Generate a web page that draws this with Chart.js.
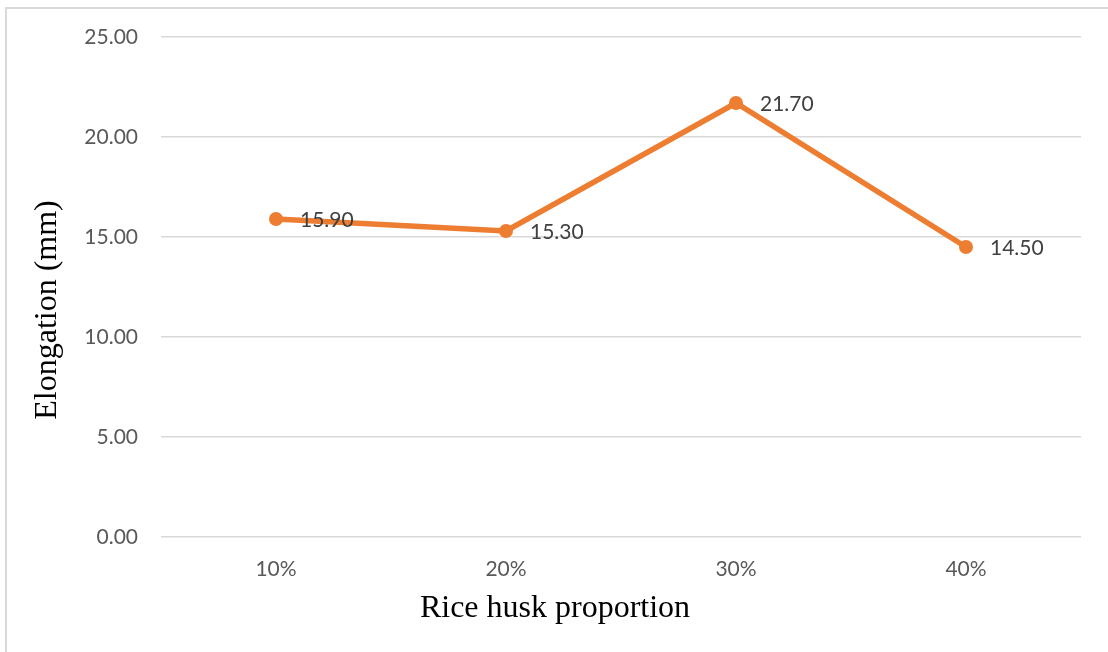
<!DOCTYPE html>
<html>
<head>
<meta charset="utf-8">
<script src="https://cdn.jsdelivr.net/npm/chart.js@4/dist/chart.umd.min.js"></script>
<style>
  html, body { margin: 0; padding: 0; background: #ffffff; }
  #wrap { width: 1108px; height: 652px; position: relative; }
</style>
</head>
<body>
<div id="wrap"><canvas id="chart" width="1108" height="652"></canvas></div>
<script>
// Elongation of samples by rice husk proportion
const categories = ['10%', '20%', '30%', '40%'];
const elongation = [15.90, 15.30, 21.70, 14.50];
const yTicks = [0, 5, 10, 15, 20, 25];
const xTitle = 'Rice husk proportion';
const yTitle = 'Elongation (mm)';

const tickFont = { family: 'Lato, "Open Sans", sans-serif', size: 21 };
const titleFont = { family: '"Liberation Serif", "Times New Roman", serif', size: 32 };

// Value labels placed to the right of each point
const valueLabels = {
  id: 'valueLabels',
  afterDatasetsDraw(chart) {
    const ctx = chart.ctx;
    const meta = chart.getDatasetMeta(0);
    ctx.save();
    ctx.font = `${tickFont.size}px ${tickFont.family}`;
    ctx.fillStyle = '#404040';
    ctx.textAlign = 'left';
    ctx.textBaseline = 'middle';
    meta.data.forEach((pt, i) => {
      ctx.fillText(elongation[i].toFixed(2), pt.x + 24, pt.y + 1);
    });
    ctx.restore();
  }
};

// Axis titles centred on the whole figure rather than on the plot area
const axisTitles = {
  id: 'axisTitles',
  afterDraw(chart) {
    const ctx = chart.ctx;
    ctx.save();
    ctx.font = `${titleFont.size}px ${titleFont.family}`;
    ctx.fillStyle = '#000000';
    ctx.textAlign = 'center';
    ctx.textBaseline = 'middle';
    ctx.fillText(xTitle, 555, 609);
    ctx.translate(48, 310);
    ctx.rotate(-Math.PI / 2);
    ctx.fillText(yTitle, 0, 0);
    ctx.restore();
  }
};

// Thin frame along the top and left edges
const frame = {
  id: 'frame',
  beforeDraw(chart) {
    const ctx = chart.ctx;
    ctx.save();
    ctx.strokeStyle = '#d9d9d9';
    ctx.lineWidth = 2;
    ctx.beginPath();
    ctx.moveTo(6, 652);
    ctx.lineTo(6, 8);
    ctx.lineTo(1108, 8);
    ctx.stroke();
    ctx.restore();
  }
};

new Chart(document.getElementById('chart'), {
  type: 'line',
  data: {
    labels: categories,
    datasets: [{
      data: elongation,
      borderColor: '#ED7D31',
      backgroundColor: '#ED7D31',
      borderWidth: 5.5,
      pointRadius: 7,
      pointHoverRadius: 7,
      pointBorderWidth: 0,
      tension: 0
    }]
  },
  options: {
    responsive: false,
    animation: false,
    events: [],
    layout: { padding: { top: 37, right: 27, left: 0, bottom: 0 } },
    plugins: {
      legend: { display: false },
      tooltip: { enabled: false }
    },
    scales: {
      x: {
        offset: true,
        grid: { display: false, drawTicks: false },
        border: { display: false },
        ticks: { color: '#595959', font: tickFont, padding: 20, maxRotation: 0 },
        afterFit(scale) { scale.height = 115; }
      },
      y: {
        min: 0,
        max: 25,
        afterBuildTicks(scale) { scale.ticks = yTicks.map(v => ({ value: v })); },
        grid: { color: '#d9d9d9', lineWidth: 1.5, drawTicks: false },
        border: { display: false },
        ticks: {
          color: '#595959',
          font: tickFont,
          padding: 23,
          callback: v => Number(v).toFixed(2)
        },
        afterFit(scale) { scale.width = 161; }
      }
    }
  },
  plugins: [frame, valueLabels, axisTitles]
});
</script>
</body>
</html>
